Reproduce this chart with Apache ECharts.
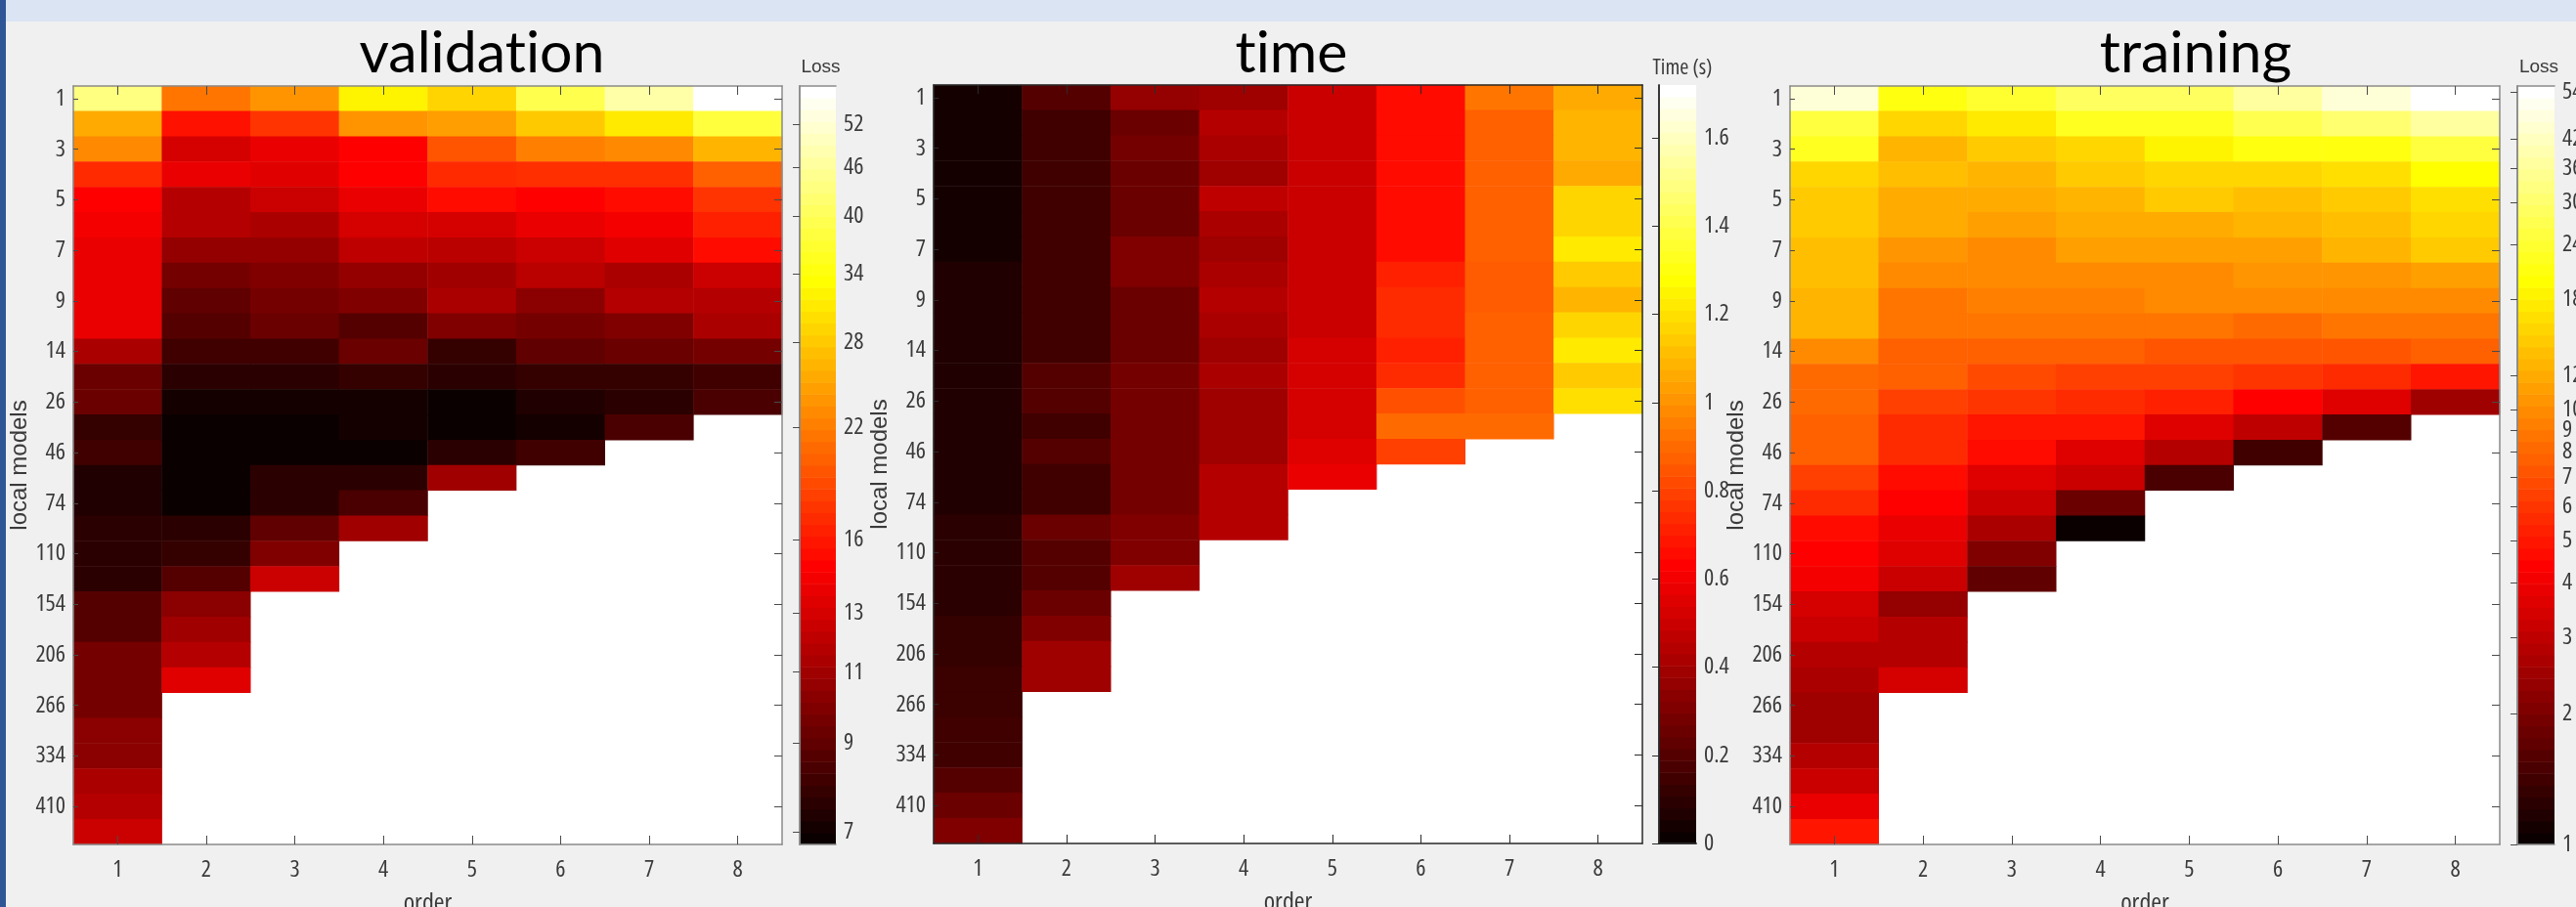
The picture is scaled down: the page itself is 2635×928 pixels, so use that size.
<!DOCTYPE html>
<html><head><meta charset="utf-8">
<style>html,body{margin:0;padding:0;background:#f0f0f0;overflow:hidden}#c{width:2635px;height:928px}</style>
<script src="https://cdn.jsdelivr.net/npm/echarts@6/dist/echarts.min.js"></script>
</head><body><div id="c"></div>
<script>
const orders = ['1','2','3','4','5','6','7','8'];
const localModels = ['1','2','3','4','5','6','7','8','9','11','14','20','26','36','46','60','74','92','110','132','154','180','206','236','266','300','334','372','410','450'];

const validationLoss = [
 [44.1,21.5,23.8,32.4,29.2,39.6,48,57.9],
 [25.5,15.6,17.5,23.8,24.6,28.2,31.3,38.3],
 [23,12.9,13.8,14.8,19.4,22.2,23,26.4],
 [16.9,13.8,13.4,14.8,16.9,17.2,17.2,20.1],
 [14.8,11.6,12.5,13.8,15.3,14.8,15.3,17.5],
 [14.3,11.6,11.3,12.9,12.9,13.8,14.3,16.4],
 [13.8,10.5,10.5,12,11.9,12.5,13.4,15.3],
 [13.8,9.5,9.83,10.5,10.9,11.9,11.3,12.5],
 [13.8,8.87,9.5,9.83,11.3,10.2,11.6,11.6],
 [13.8,8.57,9.18,8.57,9.83,9.5,9.83,11.3],
 [11.3,8.01,8.01,9.18,7.74,8.87,9.18,9.5],
 [9.18,7.48,7.48,7.74,7.48,7.74,7.74,8.01],
 [9.18,6.98,6.98,6.98,6.75,7.23,7.48,8.28],
 [7.74,6.75,6.75,6.98,6.75,6.98,8.28],
 [8.01,6.75,6.75,6.75,7.48,8.01],
 [7.23,6.75,7.48,7.48,10.9],
 [7.23,6.75,7.48,8.28],
 [7.48,7.48,8.87,10.9],
 [7.48,7.74,9.83],
 [7.48,8.57,12.5],
 [8.57,10.2],
 [8.57,10.9],
 [9.5,11.6],
 [9.5,13.4],
 [9.5],[10.2],[10.2],[11.3],[11.6],[12.5]
];

const timeSeconds = [
 [.027,.191,.355,.382,.491,.655,.928,1.065],
 [.027,.137,.246,.437,.491,.655,.874,1.092],
 [.027,.137,.273,.410,.491,.655,.874,1.092],
 [.027,.137,.246,.382,.491,.655,.874,1.065],
 [.027,.137,.246,.464,.491,.655,.874,1.174],
 [.027,.137,.246,.410,.491,.655,.874,1.174],
 [.027,.137,.300,.382,.491,.655,.874,1.229],
 [.055,.137,.300,.410,.491,.710,.860,1.147],
 [.055,.137,.246,.437,.491,.737,.860,1.092],
 [.055,.137,.246,.410,.491,.737,.874,1.174],
 [.055,.137,.246,.382,.519,.710,.874,1.229],
 [.055,.191,.273,.410,.519,.737,.874,1.147],
 [.055,.191,.273,.382,.519,.833,.874,1.201],
 [.055,.137,.273,.382,.519,.901,.901],
 [.055,.191,.273,.382,.546,.792],
 [.055,.137,.273,.437,.573],
 [.055,.137,.273,.437],
 [.082,.246,.300,.437],
 [.082,.191,.300],
 [.082,.191,.382],
 [.082,.246],
 [.109,.300],
 [.109,.382],
 [.123,.382],
 [.123],[.137],[.137],[.191],[.246],[.300]
];

const trainingLoss = [
 [47.5,21.4,24.3,29.4,29.4,38,47.5,55.7],
 [25.9,15.6,17.7,22.8,22.8,27.6,31.4,38],
 [22.8,12.8,14.6,15.6,18.8,21.4,21.4,25.9],
 [15.6,13.7,12.8,14.6,15.6,15.6,16.6,20.1],
 [14.6,12.1,12.1,12.8,14.6,13.7,14.6,16.6],
 [14.6,12.1,11.3,12.1,12.1,12.8,13.7,15.6],
 [13.7,10.6,9.96,11.3,11.3,11.3,12.8,14.6],
 [13.7,9.96,9.96,9.96,9.96,10.6,10.6,11.3],
 [12.8,8.77,9.34,9.34,9.96,9.96,9.96,9.96],
 [12.8,8.77,8.77,8.77,8.77,8.22,8.77,8.77],
 [9.96,7.71,7.71,7.71,7.24,7.24,7.24,7.71],
 [8.22,7.71,6.79,6.37,6.37,5.97,5.61,4.93],
 [8.22,6.37,5.97,5.61,5.26,4.34,3.58,2.44],
 [7.71,5.61,4.93,4.93,3.58,2.96,1.56],
 [7.71,5.61,4.63,3.58,2.78,1.38],
 [6.37,4.63,3.58,3.15,1.47],
 [5.61,4.34,3.15,1.78],
 [4.63,3.82,2.6,1],
 [4.34,3.58,2.02],
 [4.07,3.15,1.67],
 [3.36,2.29],
 [3.15,2.78],
 [2.78,2.78],
 [2.6,3.36],
 [2.44],[2.44],[2.78],[3.15],[3.82],[4.93]
];

const validationTicks = [7,9,11,13,16,22,28,34,40,46,52];
const timeTicks = [0,0.2,0.4,0.6,0.8,1,1.2,1.4,1.6];
const trainingTicks = [1,2,3,4,5,6,7,8,9,10,12,18,24,30,36,42,48,54];

// plain glyphs, as in the source figure (no "ti" ligature)
const _gc=HTMLCanvasElement.prototype.getContext;
HTMLCanvasElement.prototype.getContext=function(t,o){const c=_gc.call(this,t,o);if(c&&t==='2d'){try{c.textRendering='optimizeSpeed';}catch(e){}}return c;};

function hotColors(){
  const out=[];
  for(let i=0;i<64;i++){
    const r=Math.min(1,(i+1)/24), g=i<24?0:Math.min(1,(i-23)/24), b=i<48?0:(i-47)/16;
    const h=v=>('0'+Math.round(v*255).toString(16)).slice(-2);
    out.push('#'+h(r)+h(g)+h(b));
  }
  return out;
}
const HOT=hotColors();
const NARROW="'Open Sans','Liberation Sans',sans-serif";
const SQUEEZE='condensed';
const TEXT='#3a3a3a';

const panels=[
 {title:'validation',tx:488,ty:20,bar:'Loss',barFont:"'Liberation Sans'",barSize:19,barTop:54,barShift:-2,rows:validationLoss,log:true,min:6.75,max:57.9,ticks:validationTicks,
  plot:[75,88,725,776],cb:[818,88,37,776],line:'#8a8a8a',tick:'#4a4a4a',nameGap:42},
 {title:'time',tx:1316,ty:20,bar:'Time (s)',barFont:NARROW,barSize:22,barTop:54,barShift:0,rows:timeSeconds,log:false,min:0,max:1.72,ticks:timeTicks,
  plot:[955,87,725,776],cb:[1697,87,38,776],line:'#2a2a2a',tick:'#2a2a2a',nameGap:42},
 {title:'training',tx:2241,ty:20,bar:'Loss',barFont:"'Liberation Sans'",barSize:19,barTop:54,barShift:-2,rows:trainingLoss,log:true,min:1,max:55.7,ticks:trainingTicks,
  plot:[1831,88,726,776],cb:[2575,88,38,776],line:'#8a8a8a',tick:'#4a4a4a',nameGap:40}
];

const grid=[],xAxis=[],yAxis=[],series=[],visualMap=[],title=[];
panels.forEach((p,k)=>{
  const line={show:true,lineStyle:{color:p.line,width:1.5}};
  const g=grid.length;
  grid.push({left:p.plot[0],top:p.plot[1],width:p.plot[2],height:p.plot[3],show:true,backgroundColor:'#fff',borderWidth:0,outerBoundsMode:'none'});
  const lab={fontFamily:NARROW,fontWeight:SQUEEZE,fontSize:24,color:TEXT};
  const xi=xAxis.length,yi=yAxis.length;
  xAxis.push(
   {gridIndex:g,type:'category',data:orders,position:'bottom',z:5,axisLine:line,
    axisTick:{show:true,inside:true,length:9,alignWithLabel:true,interval:0,lineStyle:{color:p.tick,width:1}},
    axisLabel:{...lab,margin:14,interval:0},splitLine:{show:false},
    name:'order',nameLocation:'middle',nameGap:48,nameTextStyle:{fontFamily:NARROW,fontWeight:SQUEEZE,fontSize:26,color:TEXT}},
   {gridIndex:g,type:'category',data:orders,position:'top',z:5,axisLine:line,
    axisTick:{show:true,inside:true,length:9,alignWithLabel:true,interval:0,lineStyle:{color:p.tick,width:1}},
    axisLabel:{show:false},splitLine:{show:false}});
  yAxis.push(
   {gridIndex:g,type:'category',data:localModels,inverse:true,position:'left',z:5,axisLine:line,
    axisTick:{show:true,inside:true,length:5,alignWithLabel:true,interval:1,lineStyle:{color:p.tick,width:1}},
    axisLabel:{...lab,margin:8,interval:1},splitLine:{show:false},
    name:'local models',nameLocation:'middle',nameGap:p.nameGap,nameRotate:90,
    nameTextStyle:{fontFamily:"'Liberation Sans'",fontSize:24,color:TEXT}},
   {gridIndex:g,type:'category',data:localModels,inverse:true,position:'right',z:5,axisLine:line,
    axisTick:{show:true,inside:true,length:8,alignWithLabel:true,interval:1,lineStyle:{color:p.tick,width:1}},
    axisLabel:{show:false},splitLine:{show:false}});
  const tf=v=>p.log?Math.log(v):v;
  const cells=[];
  p.rows.forEach((row,r)=>row.forEach((v,c)=>cells.push([c,r,v,tf(v)])));
  const sIdx=series.length;
  series.push({type:'heatmap',xAxisIndex:xi,yAxisIndex:yi,data:cells,silent:true,animation:false,progressive:0,
    encode:{x:0,y:1,value:2},itemStyle:{borderWidth:0}});
  visualMap.push({show:false,type:'continuous',seriesIndex:sIdx,dimension:3,min:p.log?tf(p.min):p.min,max:tf(p.max),inRange:{color:HOT}});
  const g2=grid.length;
  grid.push({left:p.cb[0],top:p.cb[1],width:p.cb[2],height:p.cb[3],outerBoundsMode:'none'});
  const cbLine={show:true,lineStyle:{color:p.line,width:1.5}};
  const cx=xAxis.length,cy=yAxis.length;
  xAxis.push(
   {gridIndex:g2,type:'value',min:0,max:1,position:'bottom',z:5,axisLine:cbLine,axisTick:{show:false},axisLabel:{show:false},splitLine:{show:false}},
   {gridIndex:g2,type:'value',min:0,max:1,position:'top',z:5,axisLine:cbLine,axisTick:{show:false},axisLabel:{show:false},splitLine:{show:false}});
  yAxis.push(
   {gridIndex:g2,type:p.log?'log':'value',min:p.min,max:p.max,position:'right',z:5,axisLine:cbLine,
    axisTick:{show:true,inside:true,length:7,customValues:p.ticks,lineStyle:{color:p.tick,width:1}},
    axisLabel:{...lab,margin:8,customValues:p.ticks,hideOverlap:false,showMinLabel:true,showMaxLabel:true,formatter:v=>String(v)},splitLine:{show:false},minorTick:{show:false}},
   {gridIndex:g2,type:p.log?'log':'value',min:p.min,max:p.max,position:'left',z:5,axisLine:cbLine,axisTick:{show:false},axisLabel:{show:false},splitLine:{show:false}});
  const steps=HOT.map((c,i)=>{
    const at=q=>p.log?p.min*Math.pow(p.max/p.min,q):p.min+(p.max-p.min)*q;
    return [0,at(i/64),1,at((i+1)/64),i];
  });
  series.push({type:'custom',xAxisIndex:cx,yAxisIndex:cy,data:steps,silent:true,animation:false,clip:true,
    encode:{x:[0,2],y:[1,3]},
    renderItem:(params,api)=>{
      const a=api.coord([api.value(0),api.value(1)]),b=api.coord([api.value(2),api.value(3)]);
      return {type:'rect',shape:{x:a[0],y:b[1],width:b[0]-a[0],height:a[1]-b[1]+0.5},style:{fill:HOT[api.value(4)]}};
    }});
  title.push({text:p.title,left:p.tx,top:p.ty,textAlign:'center',textStyle:{fontFamily:"Lato",fontSize:59,fontWeight:'normal',color:'#000'}});
  title.push({text:p.bar,left:p.cb[0]+p.cb[2]/2+p.barShift,top:p.barTop,textAlign:'center',textStyle:{fontFamily:p.barFont,fontWeight:p.barFont===NARROW?SQUEEZE:'normal',fontSize:p.barSize,color:TEXT}});
});

const chart=echarts.init(document.getElementById('c'),null,{renderer:'canvas'});
chart.setOption({
  animation:false,backgroundColor:'#f0f0f0',
  title,grid,xAxis,yAxis,series,visualMap,
  graphic:[
   {type:'rect',shape:{x:0,y:0,width:2635,height:22},style:{fill:'#dae4f3'},z:10,silent:true},
   {type:'rect',shape:{x:0,y:0,width:6,height:928},style:{fill:'#2f5597'},z:11,silent:true}
  ]
});
</script></body></html>
